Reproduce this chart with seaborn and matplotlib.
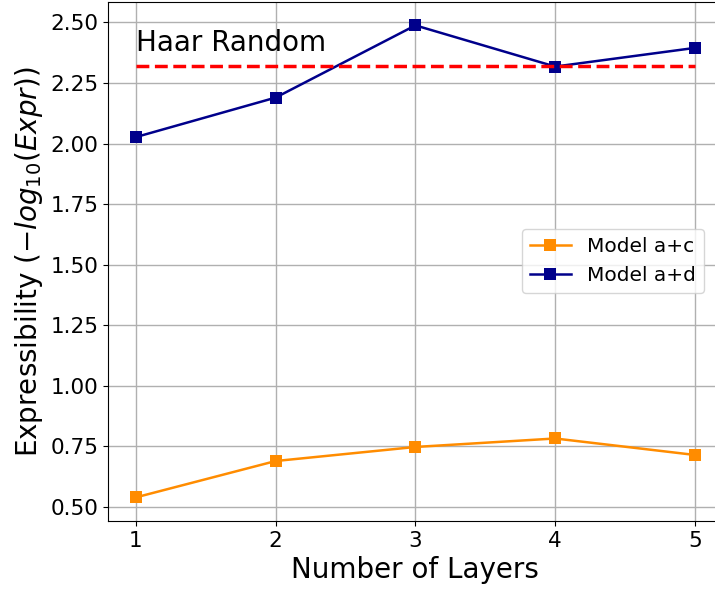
import matplotlib
matplotlib.use("Agg")
import matplotlib.pyplot as plt
import numpy as np
import pandas as pd
import seaborn as sns

# dados
layers = [1, 2, 3, 4, 5]
model_ac = [0.54, 0.69, 0.748, 0.783, 0.715]
model_ad = [2.027, 2.19, 2.488, 2.318, 2.395]
haar = 2.322

df = pd.DataFrame({
    "layers": layers * 2,
    "expr": model_ac + model_ad,
    "model": ["Model a+c"] * 5 + ["Model a+d"] * 5,
})

plt.rcParams["font.family"] = ["DejaVu Sans"]

fig = plt.figure(figsize=(7.15, 5.92), dpi=100)
ax = fig.add_axes([0.151, 0.120, 0.860, 0.877])

sns.lineplot(data=df, x="layers", y="expr", hue="model", style="model",
             markers=["s", "s"], dashes=False, markersize=8.5, linewidth=1.8,
             palette=["darkorange", "darkblue"], markeredgewidth=0, ax=ax)

ax.hlines(haar, layers[0], layers[-1], colors="red", linestyles="--", linewidth=2.5)
ax.text(layers[0], haar + 0.035, "Haar Random", fontsize=20, ha="left", va="bottom")

ax.set_xticks(layers)
ax.set_yticks([0.5, 0.75, 1.0, 1.25, 1.5, 1.75, 2.0, 2.25, 2.5])
ax.grid(True, color="#b0b0b0", linewidth=1)
ax.tick_params(labelsize=15.5)
ax.set_xlabel("Number of Layers", fontsize=20)
ax.set_ylabel(r"Expressibility ($-log_{10}(Expr)$)", fontsize=20)

leg = ax.legend(loc="center right", bbox_to_anchor=(0.985, 0.5), fontsize=14.5)
leg.set_title(None)

plt.savefig("out.png", dpi=100)
